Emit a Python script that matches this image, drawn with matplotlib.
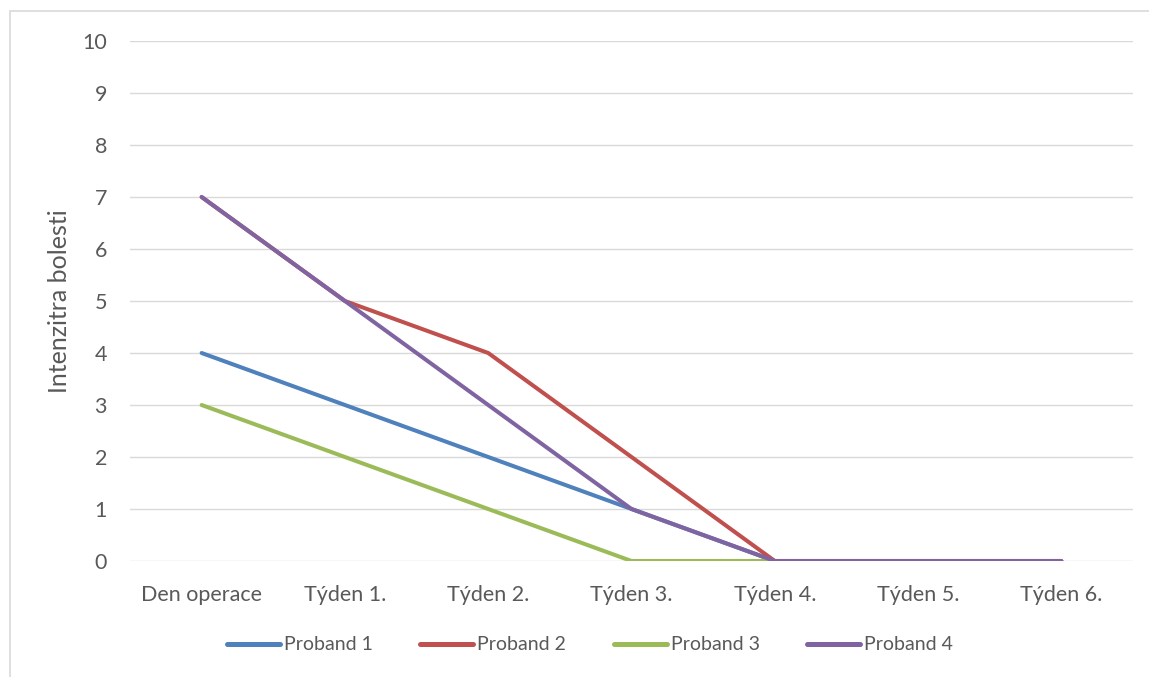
import matplotlib
matplotlib.use("Agg")
import matplotlib.pyplot as plt
from matplotlib.patches import Rectangle

categories = ["Den operace", "Týden 1.", "Týden 2.", "Týden 3.", "Týden 4.", "Týden 5.", "Týden 6."]
proband1 = [4, 3, 2, 1, 0, 0, 0]
proband2 = [7, 5, 4, 2, 0, 0, 0]
proband3 = [3, 2, 1, 0, 0, 0, 0]
proband4 = [7, 5, 3, 1, 0, 0, 0]
series_names = ["Proband 1", "Proband 2", "Proband 3", "Proband 4"]
colors = ["#4F81BD", "#C0504D", "#9BBB59", "#8064A2"]

plt.rcParams['font.family'] = ['Lato', 'DejaVu Sans']
W, H = 1149, 677
fig = plt.figure(figsize=(W/100, H/100), dpi=100)

# outer chart frame
fig.patches.append(Rectangle((10/W, -0.01), 1.2, 1 - 11/H + 0.01, transform=fig.transFigure,
                             fill=False, edgecolor="#D9D9D9", linewidth=1.2))

ax = fig.add_axes([130/W, 1 - 561/H, (1133-130)/W, (561-41)/H])
x = list(range(len(categories)))
for name, vals, c in zip(series_names, [proband1, proband2, proband3, proband4], colors):
    ax.plot(x, vals, color=c, linewidth=2.9, label=name, solid_capstyle='round', solid_joinstyle='round', zorder=3)

ax.set_xlim(-0.5, len(categories) - 0.5)
ax.set_ylim(0, 10)
ax.set_yticks(range(0, 11))
ax.set_xticks(x)
ax.set_xticklabels(categories)
for s in ax.spines.values():
    s.set_visible(False)
ax.grid(axis='y', color="#D9D9D9", linewidth=1)
ax.set_axisbelow(True)
ax.tick_params(length=0, labelsize=15.5, colors="#595959")
ax.tick_params(axis='y', pad=16.5)
ax.tick_params(axis='x', pad=17)
ax.set_ylabel("Intenzitra bolesti", fontsize=18, color="#595959", labelpad=8)

leg = fig.legend(loc='center', bbox_to_anchor=(590/W, 1 - 645/H), ncol=4, frameon=False,
                 fontsize=14, handlelength=2.73, handletextpad=0.2, columnspacing=2.45)
for t in leg.get_texts():
    t.set_color("#595959")
for l in leg.get_lines():
    l.set_linewidth(3.6)
    l.set_solid_capstyle('round')

fig.savefig("out.png", dpi=100)
